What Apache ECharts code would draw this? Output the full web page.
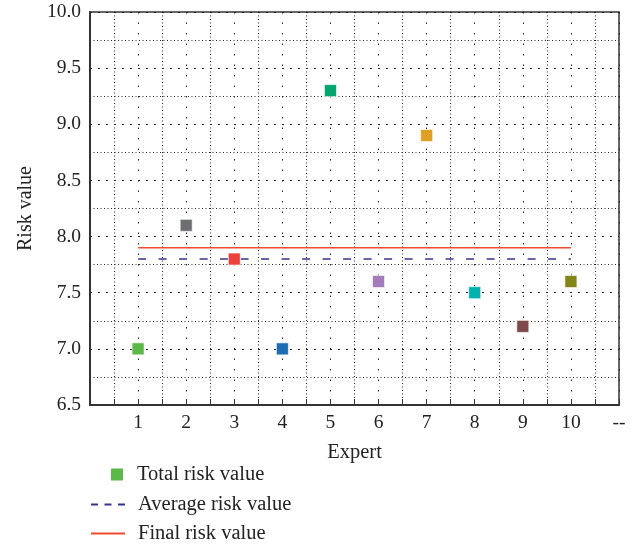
<!DOCTYPE html>
<html>
<head>
<meta charset="utf-8">
<script src="https://cdn.jsdelivr.net/npm/echarts@6/dist/echarts.min.js"></script>
<style>html,body{margin:0;padding:0;background:#fff;}#c{width:639px;height:547px;}</style>
</head>
<body>
<div id="c"></div>
<script>
const experts = [1, 2, 3, 4, 5, 6, 7, 8, 9, 10];
const totalRisk = [7.0, 8.1, 7.8, 7.0, 9.3, 7.6, 8.9, 7.5, 7.2, 7.6];
const pointColors = ['#5bb849', '#6d6e71', '#ec4239', '#1c6db5', '#00a56f', '#a47bbb', '#e0a024', '#00b1b0', '#7e4a4c', '#838516'];
const averageRisk = 7.8;
const finalRisk = 7.9;
const lineSpan = [1, 10];
const xTickLabels = {0: '', 11: '--'};

const font = 'Liberation Serif';
const chart = echarts.init(document.getElementById('c'));
chart.setOption({
  animation: false,
  backgroundColor: '#fff',
  grid: {left: 90, top: 12, right: 20, bottom: 142, show: true, borderColor: '#333', borderWidth: 1.5, backgroundColor: 'transparent'},
  xAxis: {
    type: 'value', min: 0, max: 11, interval: 1,
    name: 'Expert', nameLocation: 'middle', nameGap: 37,
    nameTextStyle: {fontFamily: font, fontSize: 20.5, color: '#222'},
    axisLine: {lineStyle: {color: '#333', width: 2}},
    axisTick: {inside: true, length: 6, lineStyle: {color: '#333'}},
    minorTick: {show: true, splitNumber: 2, length: 6, lineStyle: {color: '#333'}},
    axisLabel: {fontFamily: font, fontSize: 19.5, color: '#222', margin: 8,
      formatter: v => (v in xTickLabels ? xTickLabels[v] : String(v))},
    splitLine: {show: true, lineStyle: {color: '#222', type: [1.5, 9], width: 1}},
    minorSplitLine: {show: true, lineStyle: {color: '#222', type: [1, 2.5], width: 1}}
  },
  yAxis: {
    type: 'value', min: 6.5, max: 10, interval: 0.5,
    name: 'Risk value', nameLocation: 'middle', nameGap: 53,
    nameTextStyle: {fontFamily: font, fontSize: 20, color: '#222'},
    axisLine: {show: true, lineStyle: {color: '#333', width: 2}},
    axisTick: {show: false},
    axisLabel: {fontFamily: font, fontSize: 19.5, color: '#222', margin: 9, formatter: v => v.toFixed(1)},
    splitLine: {show: true, lineStyle: {color: '#222', type: [2, 6], width: 1}},
    minorTick: {show: false, splitNumber: 2},
    minorSplitLine: {show: true, lineStyle: {color: '#222', type: [1, 2.5], width: 1}}
  },
  legend: [
    {
      orient: 'vertical', left: 106, top: 459, itemWidth: 12, itemHeight: 12,
      data: [{name: 'Total risk value', icon: 'rect', itemStyle: {color: pointColors[0], opacity: 1}}],
      textStyle: {fontFamily: font, fontSize: 20.5, color: '#222', padding: [0, 0, 0, 9]}
    },
    {
      orient: 'vertical', left: 85, top: 489, height: 80, itemWidth: 34, itemHeight: 12, itemGap: 8,
      data: [
        {name: 'Average risk value', itemStyle: {opacity: 0}, lineStyle: {type: [7, 6.5]}},
        {name: 'Final risk value', itemStyle: {opacity: 0}}
      ],
      textStyle: {fontFamily: font, fontSize: 20.5, color: '#222', padding: [0, 0, 0, 8]}
    }
  ],
  series: [
    {
      name: 'Total risk value', type: 'scatter', symbol: 'rect', symbolSize: 12,
      data: experts.map((e, i) => ({value: [e, totalRisk[i]], itemStyle: {color: pointColors[i], opacity: 1, borderColor: 'rgba(255,255,255,0.6)', borderWidth: 1}})),
      z: 5
    },
    {
      name: 'Average risk value', type: 'line', symbol: 'none',
      lineStyle: {color: '#34348c', width: 1.5, type: [8, 12.5]},
      itemStyle: {color: '#34348c'},
      data: lineSpan.map(x => [x, averageRisk]), z: 3
    },
    {
      name: 'Final risk value', type: 'line', symbol: 'none',
      lineStyle: {color: '#f04a30', width: 1.5},
      itemStyle: {color: '#f04a30'},
      data: lineSpan.map(x => [x, finalRisk]), z: 3
    }
  ]
});
</script>
</body>
</html>
